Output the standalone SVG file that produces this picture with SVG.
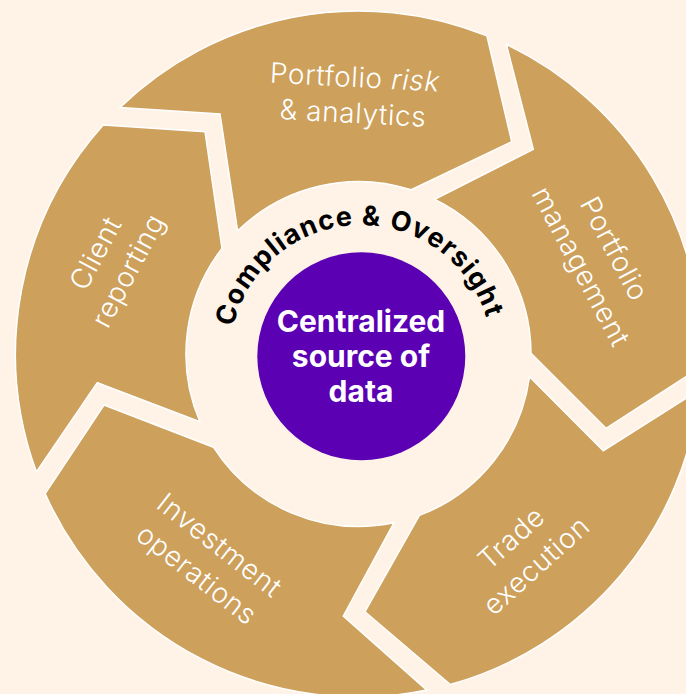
<svg xmlns="http://www.w3.org/2000/svg" width="686" height="694" viewBox="0 0 686 694">
  <defs>
    <style>
      .seg { fill: #CDA05C; stroke: #FFFFFF; stroke-width: 1.5; stroke-linejoin: miter; }
      .lbl { font-family: "Inter", "Liberation Sans", sans-serif; font-weight: 300; font-size: 28px; fill: #FFFFFF; text-anchor: middle; letter-spacing: 0.6px; }
      .ctr { font-family: "Inter", "Liberation Sans", sans-serif; font-weight: 700; font-size: 30px; fill: #FFFFFF; text-anchor: middle; }
      .ring { font-family: "Inter", "Liberation Sans", sans-serif; font-weight: 700; font-size: 27px; fill: #000000; letter-spacing: 1.2px; }
    </style>
    <path id="arcText" d="M 230 356 A 131 131 0 0 1 492 356"/>
  </defs>
  <rect x="0" y="0" width="686" height="694" fill="#FEF3E6"/>

  <g id="client-reporting">
    <path class="seg" d="M 103.2 124.9 L 205 131.7 L 222 248.4 A 172.5 172.5 0 0 0 199.9 421.8 L 97.3 382.7 L 36.4 471.8 A 343 343 0 0 1 103.2 124.9 Z"/>
    <g transform="translate(112 262) rotate(-62)">
      <text class="lbl" x="0" y="-9">Client</text>
      <text class="lbl" x="0" y="28">reporting</text>
    </g>
  </g>

  <g id="portfolio-risk">
    <path class="seg" d="M 120.1 107.4 A 343 343 0 0 1 486.9 35.9 L 511.7 141.7 L 411.2 189.8 A 172.5 172.5 0 0 0 237.6 230.9 L 220 114 Z"/>
    <g transform="translate(354 95) rotate(3)">
      <text class="lbl" x="0" y="-8">Portfolio <tspan font-style="italic">risk</tspan></text>
      <text class="lbl" x="0" y="28">&amp; analytics</text>
    </g>
  </g>

  <g id="portfolio-management">
    <path class="seg" d="M 506.4 44.5 A 343 343 0 0 1 701.3 366.8 L 606 428.3 L 531 353.3 A 172.5 172.5 0 0 0 434.8 199.3 L 533.3 149.3 Z"/>
    <g transform="translate(597 258) rotate(62)">
      <text class="lbl" x="0" y="-10">Portfolio</text>
      <text class="lbl" x="0" y="28">management</text>
    </g>
  </g>

  <g id="trade-execution">
    <path class="seg" d="M 699.6 389.7 A 343 343 0 0 1 450.3 684.5 L 365 611.7 L 419.4 515.4 A 172.5 172.5 0 0 0 529.5 376.7 L 603.3 450.7 Z"/>
    <g transform="translate(524 552) rotate(-42)">
      <text class="lbl" x="0" y="-9">Trade</text>
      <text class="lbl" x="0" y="28">execution</text>
    </g>
  </g>

  <g id="investment-operations">
    <path class="seg" d="M 426.8 690.1 A 343 343 0 0 1 45.2 493.7 L 104 405 L 213.4 447.2 A 172.5 172.5 0 0 0 393.9 522.8 L 343.3 616 Z"/>
    <g transform="translate(208 560) rotate(38)">
      <text class="lbl" x="0" y="-9">Investment</text>
      <text class="lbl" x="0" y="28">operations</text>
    </g>
  </g>

  <g id="compliance-oversight">
    <text class="ring"><textPath href="#arcText" startOffset="49%" text-anchor="middle">Compliance &amp; Oversight</textPath></text>
  </g>

  <g id="centralized-data">
    <circle cx="361.3" cy="356.3" r="104" fill="#5C00B3"/>
    <text class="ctr" x="361" y="332">Centralized</text>
    <text class="ctr" x="361" y="367">source of</text>
    <text class="ctr" x="361" y="402">data</text>
  </g>

  <g id="connectors"></g>
</svg>
